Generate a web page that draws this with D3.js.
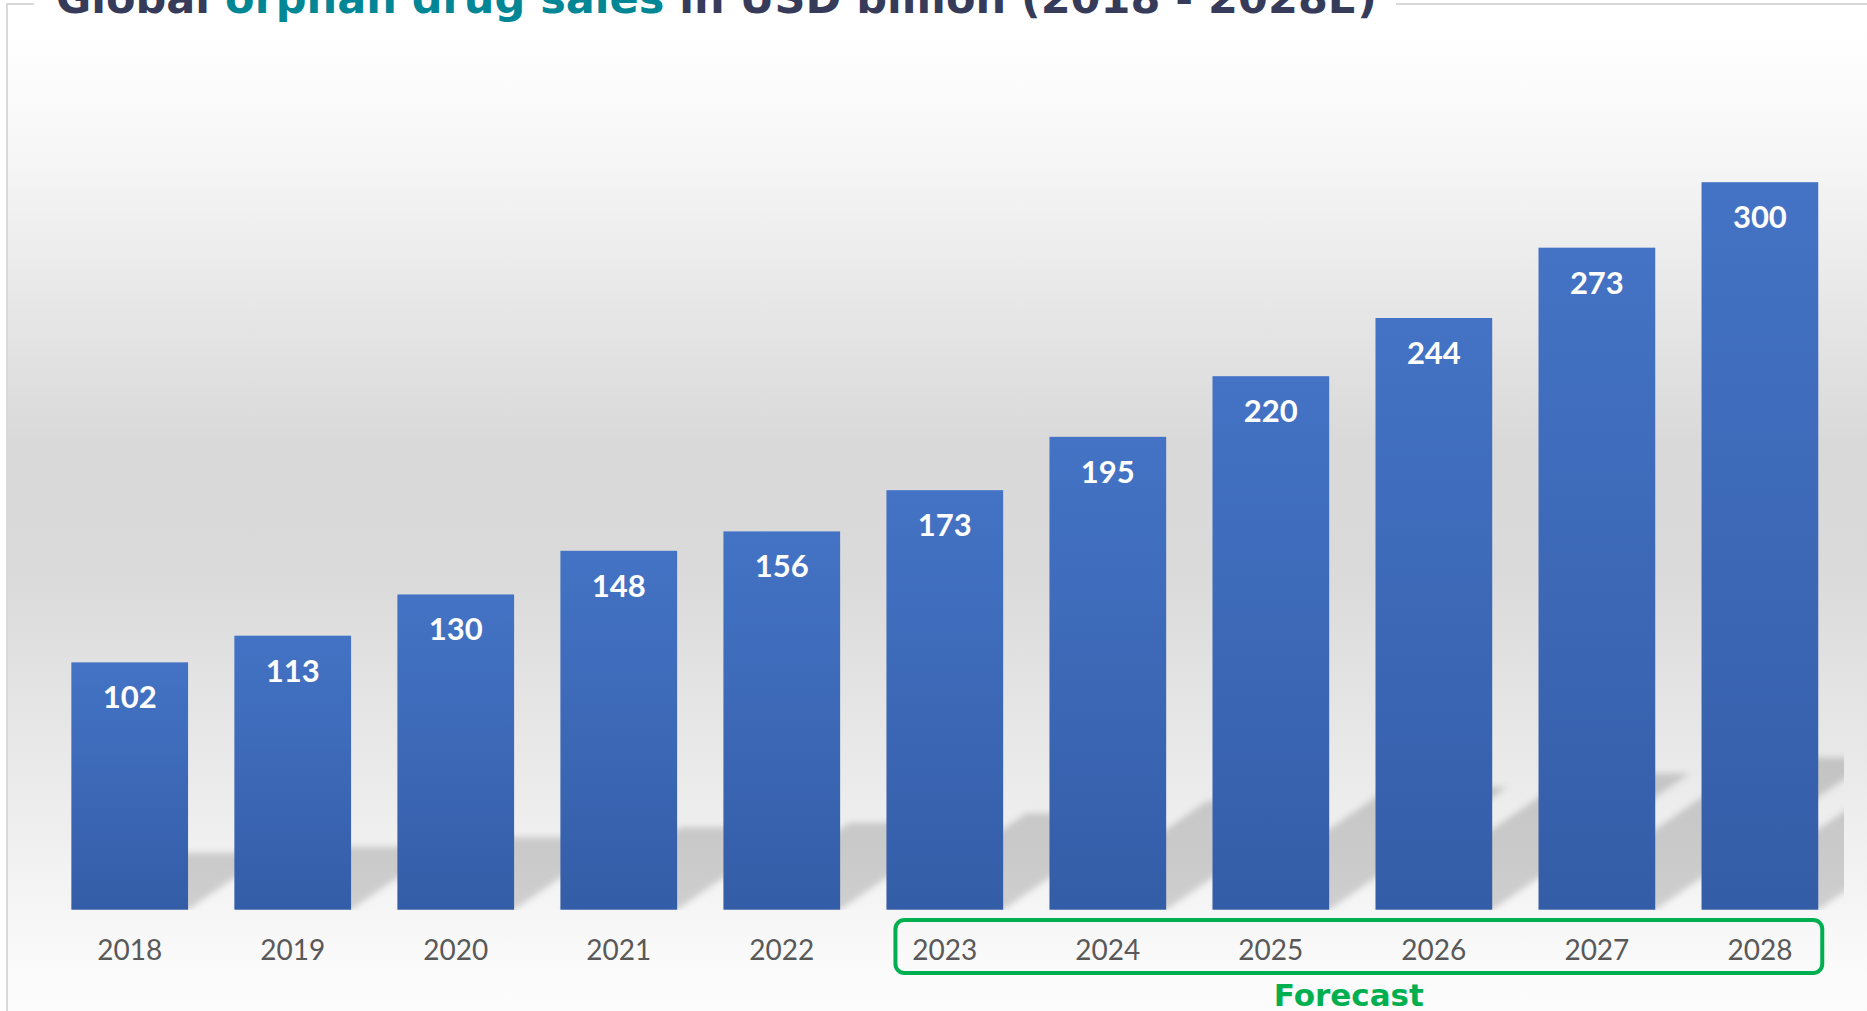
<!DOCTYPE html>
<html>
  <head>
    <meta charset="utf-8" />
    <title>Global orphan drug sales</title>
    <script src="https://d3js.org/d3.v7.min.js"></script>
    <style>
      body { margin: 0; background: #ffffff; overflow: hidden; }
      svg { display: block; }
    </style>
  </head>
  <body>
    <svg id="chart"></svg>
    <script>

    // chart data
    var years = ["2018", "2019", "2020", "2021", "2022", "2023", "2024", "2025", "2026", "2027", "2028"];
    var sales = [102, 113, 130, 148, 156, 173, 195, 220, 244, 273, 300];
    var forecastYears = ["2023", "2024", "2025", "2026", "2027", "2028"];
    var titleParts = [
      {text: "Global ", color: "#363b59"},
      {text: "orphan drug sales", color: "#008695"},
      {text: " in USD billion (2018 - 2028E)", color: "#363b59"}
    ];

    var width = 1867,
        height = 1011;

    var svg = d3.select("#chart")
      .attr("width", width)
      .attr("height", height);

    var defs = svg.append("defs");

    // background gradient (white -> grey -> white)
    var bg = defs.append("linearGradient")
      .attr("id", "bgGrad")
      .attr("x1", 0).attr("y1", 0).attr("x2", 0).attr("y2", 1);
    [[0, "#ffffff"], [0.12, "#f7f7f7"], [0.42, "#d9d9d9"], [0.55, "#dadada"], [0.78, "#ececec"], [0.95, "#fafafa"], [1, "#fcfcfc"]]
      .forEach(function(s) {
        bg.append("stop").attr("offset", s[0]).attr("stop-color", s[1]);
      });

    // bar gradient
    var bg2 = defs.append("linearGradient")
      .attr("id", "barGrad")
      .attr("x1", 0).attr("y1", 0).attr("x2", 0).attr("y2", 1);
    bg2.append("stop").attr("offset", 0).attr("stop-color", "#4473c5");
    bg2.append("stop").attr("offset", 1).attr("stop-color", "#345da7");

    defs.append("filter")
      .attr("id", "blur")
      .attr("x", "-20%").attr("y", "-20%").attr("width", "140%").attr("height", "140%")
      .append("feGaussianBlur")
      .attr("stdDeviation", 3);

    defs.append("clipPath")
      .attr("id", "plotClip")
      .append("rect")
      .attr("x", 8).attr("y", 32).attr("width", 1836).attr("height", 878);

    // background panel
    svg.append("rect")
      .attr("x", 8).attr("y", 32)
      .attr("width", width - 8).attr("height", height - 32)
      .attr("fill", "url(#bgGrad)");

    // frame lines
    var frame = svg.append("g")
      .attr("stroke", "#d9d9d9")
      .attr("stroke-width", 2)
      .attr("fill", "none");
    frame.append("path").attr("d", "M7,1011 V4 H34");
    frame.append("path").attr("d", "M1396,4 H1867");

    // scales
    var x = d3.scaleBand()
      .domain(years)
      .range([48.2, 1841.4])
      .paddingInner(0.284)
      .paddingOuter(0.142);

    var y = d3.scaleLinear()
      .domain([0, 300])
      .range([909.7, 182.2]);

    var data = years.map(function(yr, i) {
      return {year: yr, value: sales[i]};
    });

    var bw = x.bandwidth();
    var base = y(0);

    // perspective shadows behind bars
    svg.append("g")
      .attr("clip-path", "url(#plotClip)")
      .append("g")
      .attr("filter", "url(#blur)")
      .selectAll("path")
      .data(data)
      .enter().append("path")
      .attr("fill", "#000")
      .attr("fill-opacity", 0.16)
      .attr("d", function(d) {
        var x0 = x(d.year), x1 = x0 + bw;
        var sh = 0.23 * (base - y(d.value));
        var dx = 1.45 * sh;
        return "M" + x0 + "," + base + "L" + x1 + "," + base +
          "L" + (x1 + dx) + "," + (base - sh) + "L" + (x0 + dx) + "," + (base - sh) + "Z";
      });

    // bars
    svg.append("g")
      .selectAll("rect")
      .data(data)
      .enter().append("rect")
      .attr("x", function(d) { return x(d.year); })
      .attr("y", function(d) { return y(d.value); })
      .attr("width", bw)
      .attr("height", function(d) { return base - y(d.value); })
      .attr("fill", "url(#barGrad)");

    // value labels
    svg.append("g")
      .selectAll("text")
      .data(data)
      .enter().append("text")
      .attr("x", function(d) { return x(d.year) + bw / 2; })
      .attr("y", function(d) { return y(d.value) + 46; })
      .attr("text-anchor", "middle")
      .attr("font-family", "Lato")
      .attr("font-weight", "bold")
      .attr("font-size", "31px")
      .attr("fill", "#ffffff")
      .text(function(d) { return d.value; });

    // category axis
    var xAxis = d3.axisBottom(x).tickSize(0).tickPadding(0);
    var axisG = svg.append("g")
      .attr("transform", "translate(0," + base + ")")
      .call(xAxis);
    axisG.select(".domain").remove();
    axisG.selectAll("text")
      .attr("dy", null)
      .attr("y", 50.3)
      .attr("font-family", "Lato")
      .attr("font-size", "28px")
      .attr("fill", "#595959");

    // forecast box
    var fx0 = x(forecastYears[0]) + 9,
        fx1 = x(forecastYears[forecastYears.length - 1]) + bw + 4;
    svg.append("rect")
      .attr("x", fx0).attr("y", 920)
      .attr("width", fx1 - fx0).attr("height", 53)
      .attr("rx", 9)
      .attr("fill", "none")
      .attr("stroke", "#00b050")
      .attr("stroke-width", 4);

    svg.append("text")
      .attr("x", (fx0 + fx1) / 2 - 10)
      .attr("y", 1006)
      .attr("text-anchor", "middle")
      .attr("font-family", "DejaVu Sans")
      .attr("font-weight", "bold")
      .attr("font-size", "31px")
      .attr("fill", "#00b050")
      .text("Forecast");

    // title (cut off at the top edge, as in the source)
    var title = svg.append("text")
      .attr("x", 56)
      .attr("y", 13)
      .attr("font-family", "DejaVu Sans")
      .attr("font-weight", "bold")
      .attr("font-size", "43px");
    title.selectAll("tspan")
      .data(titleParts)
      .enter().append("tspan")
      .attr("fill", function(d) { return d.color; })
      .style("white-space", "pre")
      .text(function(d) { return d.text; });

    </script>
  </body>
</html>
